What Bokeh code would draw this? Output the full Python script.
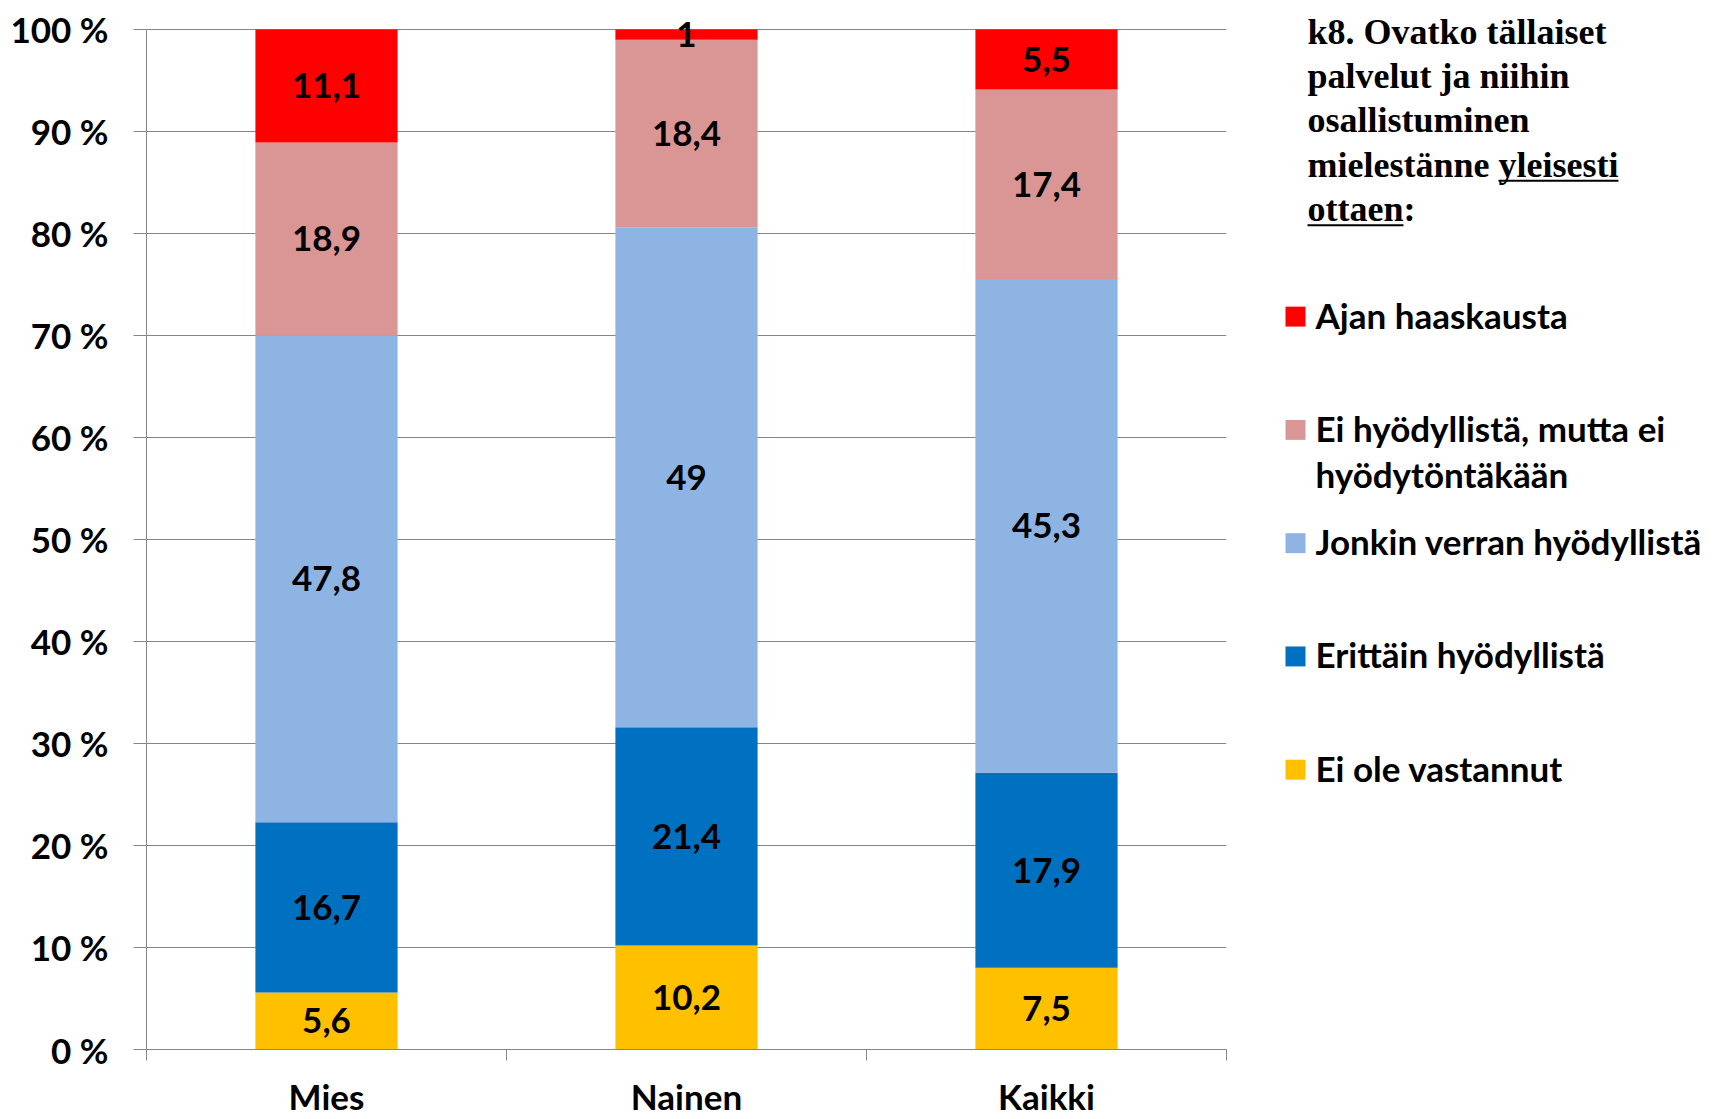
from bokeh.plotting import figure
from bokeh.models import Range1d, FixedTicker, ColumnDataSource, LabelSet
from bokeh.layouts import row
from bokeh.embed import file_html
from bokeh.resources import INLINE
from bokeh.core.properties import value

# ---------------- data ----------------
categories = ["Mies", "Nainen", "Kaikki"]
series_names = [
    "Ei ole vastannut",
    "Erittäin hyödyllistä",
    "Jonkin verran hyödyllistä",
    "Ei hyödyllistä, mutta ei\nhyödytöntäkään",
    "Ajan haaskausta",
]
ei_ole_vastannut = [5.6, 10.2, 7.5]
erittain_hyodyllista = [16.7, 21.4, 17.9]
jonkin_verran_hyodyllista = [47.8, 49.0, 45.3]
ei_hyodyllista_ei_hyodytonta = [18.9, 18.4, 17.4]
ajan_haaskausta = [11.1, 1.0, 5.5]
series_colors = ["#FFC000", "#0070C0", "#8EB4E3", "#D99694", "#FF0000"]
y_ticks = [0, 10, 20, 30, 40, 50, 60, 70, 80, 90, 100]
y_tick_labels = ["0 %", "10 %", "20 %", "30 %", "40 %", "50 %", "60 %", "70 %", "80 %", "90 %", "100 %"]
# title lines as (text, underlined) segments
title_lines = [
    [("k8.  Ovatko tällaiset", False)],
    [("palvelut ja niihin", False)],
    [("osallistuminen", False)],
    [("mielestänne ", False), ("yleisesti", True)],
    [("ottaen", True), (":", False)],
]

# ---------------- style / layout (page pixels) ----------------
GRAY = "#868686"
SANS = "Lato"
SERIF = "Liberation Serif"
FS = "35px"
W_MAIN, W_SIDE, H = 1250, 462, 1119
F_LEFT, F_RIGHT, F_TOP, F_BOTTOM = 146, 1226, 9, 1052   # frame edges
PLOT_TOP = 29                                              # where 100 % sits
Y_TOP = 100 * (F_BOTTOM - F_TOP) / (F_BOTTOM - PLOT_TOP)   # range end giving headroom

raw = [ei_ole_vastannut, erittain_hyodyllista, jonkin_verran_hyodyllista,
       ei_hyodyllista_ei_hyodytonta, ajan_haaskausta]
n = len(categories)
xs = [i + 1 for i in range(n)]
totals = [sum(s[i] for s in raw) for i in range(n)]
keys = [f"s{k}" for k in range(len(raw))]
data = {"x": xs}
for k, s in zip(keys, raw):
    data[k] = [v / t * 100 for v, t in zip(s, totals)]
src = ColumnDataSource(data)


def fmt(v):
    return f"{v:g}".replace(".", ",")


lx, ly, lt = [], [], []
for i in range(n):
    base = 0.0
    for k, s in zip(keys, raw):
        h = data[k][i]
        lx.append(xs[i]); ly.append(base + h / 2); lt.append(fmt(s[i]))
        base += h
lab_src = ColumnDataSource(dict(x=lx, y=ly, t=lt))

p = figure(width=W_MAIN, height=H, x_range=Range1d(0.5, n + 0.5), y_range=Range1d(0, Y_TOP),
           output_backend="svg", toolbar_location=None,
           min_border_left=F_LEFT, min_border_right=W_MAIN - F_RIGHT,
           min_border_top=F_TOP, min_border_bottom=H - F_BOTTOM)
p.outline_line_color = None
p.background_fill_color = "white"
p.vbar_stack(keys, x="x", width=0.395, fill_color=series_colors, line_color=None, source=src)

labels = LabelSet(x="x", y="y", text="t", source=lab_src, text_align="center",
                  text_baseline="middle", text_font=value(SANS), text_font_style="bold",
                  text_font_size=value(FS), text_color="black")
p.add_layout(labels)

yt = FixedTicker(ticks=y_ticks)
p.yaxis.ticker = yt
p.ygrid.ticker = yt
p.yaxis.bounds = (0, 100)
p.yaxis.major_label_overrides = dict(zip(y_ticks, y_tick_labels))
p.yaxis.major_tick_out = 13
p.yaxis.major_tick_in = 0
p.yaxis.minor_tick_out = 0
p.yaxis.axis_line_color = GRAY
p.yaxis.major_tick_line_color = GRAY
p.yaxis.major_label_standoff = 25
p.yaxis.major_label_text_font = SANS
p.yaxis.major_label_text_font_style = "bold"
p.yaxis.major_label_text_font_size = FS
p.yaxis.major_label_text_color = "black"
p.ygrid.grid_line_color = GRAY
p.xgrid.visible = False

xt = FixedTicker(ticks=xs, minor_ticks=[i + 0.5 for i in range(n + 1)])
p.xaxis.ticker = xt
p.xaxis.major_label_overrides = dict(zip(xs, categories))
p.xaxis.major_tick_line_color = None
p.xaxis.major_tick_out = 11
p.xaxis.major_tick_in = 0
p.xaxis.minor_tick_out = 11
p.xaxis.minor_tick_in = 0
p.xaxis.minor_tick_line_color = GRAY
p.xaxis.axis_line_color = GRAY
p.xaxis.major_label_standoff = 14
p.xaxis.major_label_text_font = SANS
p.xaxis.major_label_text_font_style = "bold"
p.xaxis.major_label_text_font_size = FS
p.xaxis.major_label_text_color = "black"

# ---------------- side panel (title + legend), data units = page pixels ----------------
s = figure(width=W_SIDE, height=H, x_range=Range1d(W_MAIN, W_MAIN + W_SIDE),
           y_range=Range1d(F_BOTTOM, F_TOP),
           output_backend="svg", toolbar_location=None, x_axis_location=None, y_axis_location=None,
           min_border_left=0, min_border_right=0, min_border_top=F_TOP, min_border_bottom=H - F_BOTTOM)
s.outline_line_color = None
s.grid.visible = False

# Times-bold metric widths (per em) for placing underlined words
CW = {" ": .25, ".": .25, ":": .333, "8": .5, "k": .556, "O": .778, "v": .5, "a": .5, "t": .333,
      "o": .5, "ä": .5, "l": .278, "i": .278, "s": .389, "e": .444, "p": .556, "u": .556,
      "j": .333, "n": .556, "h": .556, "m": .833, "y": .5}
TFS = 36
TX = 1307
tx, ty, tt, ux0, ux1, uy = [], [], [], [], [], []
for li, segs in enumerate(title_lines):
    base_y = 43 + li * 44.6
    cx = TX
    for txt, und in segs:
        w = sum(CW.get(c, .5) for c in txt) * TFS
        tx.append(cx); ty.append(base_y - 0.33 * TFS); tt.append(txt)
        if und:
            ux0.append(cx); ux1.append(cx + w); uy.append(base_y + 4)
        cx += w
s.text(x=tx, y=ty, text=tt, text_font=value(SERIF), text_font_style="bold",
       text_font_size=value(f"{TFS}px"), text_baseline="middle", text_align="left",
       text_color="black")
s.segment(x0=ux0, y0=uy, x1=ux1, y1=uy, line_width=2, line_color="black")

gx, gy, gt = [], [], []
sq_y, sq_c = [], []
for j in range(len(series_names)):
    si = len(series_names) - 1 - j
    yc = 317 + j * 113.6
    sq_y.append(yc); sq_c.append(series_colors[si])
    for k, line in enumerate(series_names[si].split("\n")):
        gx.append(1315); gy.append(yc - 2 + k * 46); gt.append(line)
s.rect(x=[1295] * len(sq_y), y=sq_y, width=20, height=20, fill_color=sq_c, line_color=None)
s.text(x=gx, y=gy, text=gt, text_font=value(SANS), text_font_style="bold",
       text_font_size=value(FS), text_baseline="middle", text_align="left", text_color="black")

layout = row(p, s)
open("out.html", "w").write(file_html(layout, INLINE))
